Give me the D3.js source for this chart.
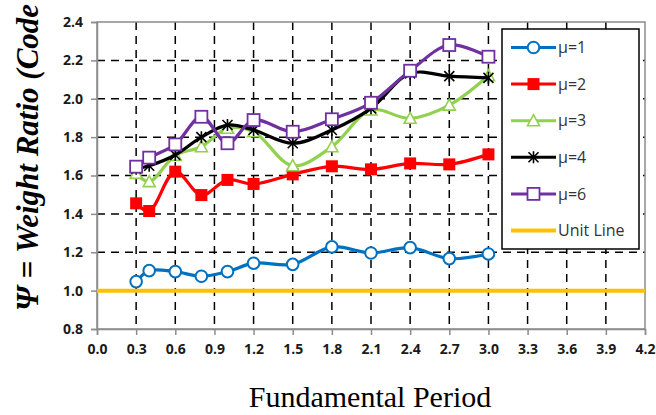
<!DOCTYPE html>
<html>
<head>
<meta charset="utf-8">
<script src="https://cdn.jsdelivr.net/npm/d3@7"></script>
<style>
  body { margin: 0; background: #fff; }
  svg { display: block; }
</style>
</head>
<body>
<div id="chart"></div>
<script>
// data
var periods = [0.3, 0.4, 0.6, 0.8, 1.0, 1.2, 1.5, 1.8, 2.1, 2.4, 2.7, 3.0];
var mu1 = [1.047, 1.104, 1.099, 1.075, 1.099, 1.143, 1.137, 1.228, 1.196, 1.224, 1.167, 1.191];
var mu2 = [1.455, 1.415, 1.62, 1.498, 1.577, 1.556, 1.606, 1.648, 1.632, 1.663, 1.658, 1.71];
var mu3 = [1.611, 1.568, 1.705, 1.75, 1.846, 1.828, 1.651, 1.75, 1.941, 1.898, 1.967, 2.12];
var mu4 = [1.635, 1.651, 1.707, 1.80, 1.863, 1.837, 1.768, 1.837, 1.95, 2.132, 2.118, 2.109];
var mu6 = [1.646, 1.693, 1.762, 1.906, 1.768, 1.889, 1.828, 1.893, 1.979, 2.146, 2.28, 2.219];
var unitLine = [1.0, 1.0];
var xTicks = [0.0, 0.3, 0.6, 0.9, 1.2, 1.5, 1.8, 2.1, 2.4, 2.7, 3.0, 3.3, 3.6, 3.9, 4.2];
var yTicks = [0.8, 1.0, 1.2, 1.4, 1.6, 1.8, 2.0, 2.2, 2.4];

var series = [
  {name: "\u03bc=1", values: mu1, color: "#0070C0", marker: "circle"},
  {name: "\u03bc=2", values: mu2, color: "#FF0000", marker: "fsquare"},
  {name: "\u03bc=3", values: mu3, color: "#92D050", marker: "triangle"},
  {name: "\u03bc=4", values: mu4, color: "#000000", marker: "star"},
  {name: "\u03bc=6", values: mu6, color: "#7030A0", marker: "square"}
];

var W = 656, H = 415;
var margin = {top: 22, right: 11, bottom: 86, left: 97};
var width = W - margin.left - margin.right,
    height = H - margin.top - margin.bottom;

var svg = d3.select("#chart").append("svg")
    .attr("width", W).attr("height", H);
var g = svg.append("g")
    .attr("transform", "translate(" + margin.left + "," + margin.top + ")");

var x = d3.scaleLinear().domain([0, 4.2]).range([0, width]);
var y = d3.scaleLinear().domain([0.8, 2.4]).range([height, 0]);

// dashed grid
g.append("g").selectAll("line").data(xTicks.slice(1, -1)).enter().append("line")
    .attr("x1", function(d) { return x(d); }).attr("x2", function(d) { return x(d); })
    .attr("y1", 0).attr("y2", height)
    .attr("stroke", "#000").attr("stroke-width", 1.5).attr("stroke-dasharray", "8,6");
g.append("g").selectAll("line").data(yTicks.slice(1, -1)).enter().append("line")
    .attr("x1", 0).attr("x2", width)
    .attr("y1", function(d) { return y(d); }).attr("y2", function(d) { return y(d); })
    .attr("stroke", "#000").attr("stroke-width", 1.5).attr("stroke-dasharray", "8,6");

// frame
g.append("rect").attr("width", width).attr("height", height)
    .attr("fill", "none").attr("stroke", "#8c8c8c").attr("stroke-width", 1.5);

// axes
var xAxis = g.append("g").attr("transform", "translate(0," + height + ")")
    .call(d3.axisBottom(x).tickValues(xTicks).tickFormat(d3.format(".1f")).tickSize(6).tickPadding(9));
var yAxis = g.append("g")
    .call(d3.axisLeft(y).tickValues(yTicks).tickFormat(d3.format(".1f")).tickSize(6).tickPadding(8));
[xAxis, yAxis].forEach(function(a) {
  a.select(".domain").attr("stroke", "#8c8c8c").attr("stroke-width", 1.5);
  a.selectAll(".tick line").attr("stroke", "#8c8c8c").attr("stroke-width", 1.5);
  a.selectAll("text").attr("fill", "#1a1a1a")
    .style("font-family", "'Open Sans', sans-serif").style("font-weight", "bold").style("font-size", "14px");
});

// unit line
g.append("path").datum(unitLine)
    .attr("d", d3.line().x(function(d, i) { return x(i * 4.2); }).y(function(d) { return y(d); }))
    .attr("stroke", "#FFC000").attr("stroke-width", 4).attr("fill", "none");

var line = d3.line().curve(d3.curveCatmullRom.alpha(0.5))
    .x(function(d, i) { return x(periods[i]); })
    .y(function(d) { return y(d); });

function drawMarker(sel, type, color) {
  if (type == "circle") {
    sel.append("circle").attr("r", 5.8).attr("fill", "#fff").attr("stroke", color).attr("stroke-width", 2);
  } else if (type == "fsquare") {
    sel.append("rect").attr("x", -6).attr("y", -6).attr("width", 12).attr("height", 12).attr("fill", color);
  } else if (type == "square") {
    sel.append("rect").attr("x", -6).attr("y", -6).attr("width", 12).attr("height", 12)
      .attr("fill", "#fff").attr("stroke", color).attr("stroke-width", 1.8);
  } else if (type == "triangle") {
    sel.append("path").attr("d", "M0,-6L6,5L-6,5Z")
      .attr("fill", "#fff").attr("stroke", color).attr("stroke-width", 1.6);
  } else if (type == "star") {
    sel.append("path").attr("d", "M-5,-5L5,5M-5,5L5,-5M0,-6L0,6")
      .attr("stroke", color).attr("stroke-width", 1.6).attr("fill", "none");
  }
}

series.forEach(function(s) {
  g.append("path").datum(s.values).attr("d", line)
    .attr("fill", "none").attr("stroke", s.color).attr("stroke-width", 3.2);
  g.append("g").selectAll("g").data(s.values).enter().append("g")
    .attr("transform", function(d, i) { return "translate(" + x(periods[i]) + "," + y(d) + ")"; })
    .each(function() { drawMarker(d3.select(this), s.marker, s.color); });
});

// legend
var legend = svg.append("g").attr("transform", "translate(502,29)");
legend.append("rect").attr("width", 137).attr("height", 220)
    .attr("fill", "#fff").attr("stroke", "#000").attr("stroke-width", 1.5);
var entries = series.map(function(s) { return s; })
    .concat([{name: "Unit Line", color: "#FFC000", marker: null}]);
entries.forEach(function(s, i) {
  var row = legend.append("g").attr("transform", "translate(0," + (18.5 + i * 36.6) + ")");
  row.append("line").attr("x1", 9).attr("x2", 54)
    .attr("stroke", s.color).attr("stroke-width", s.marker ? 3 : 4);
  if (s.marker) row.append("g").attr("transform", "translate(31.5,0)")
    .call(function(sel) { drawMarker(sel, s.marker, s.color); });
  row.append("text").attr("x", 56).attr("y", 0).attr("dy", "0.35em")
    .style("font-family", "'Open Sans', sans-serif").style("font-size", "16px")
    .attr("fill", "#333").text(s.name);
});

// axis titles
svg.append("text")
    .attr("transform", "translate(38,311)rotate(-90)")
    .attr("text-anchor", "start")
    .style("font-family", "'Liberation Serif', serif").style("font-style", "italic")
    .style("font-weight", "bold").style("font-size", "31px")
    .text("\u03a8 = Weight Ratio (Code");
svg.append("text")
    .attr("x", 370).attr("y", 407).attr("text-anchor", "middle")
    .style("font-family", "'Liberation Serif', serif").style("font-size", "30px")
    .text("Fundamental Period");
</script>
</body>
</html>
